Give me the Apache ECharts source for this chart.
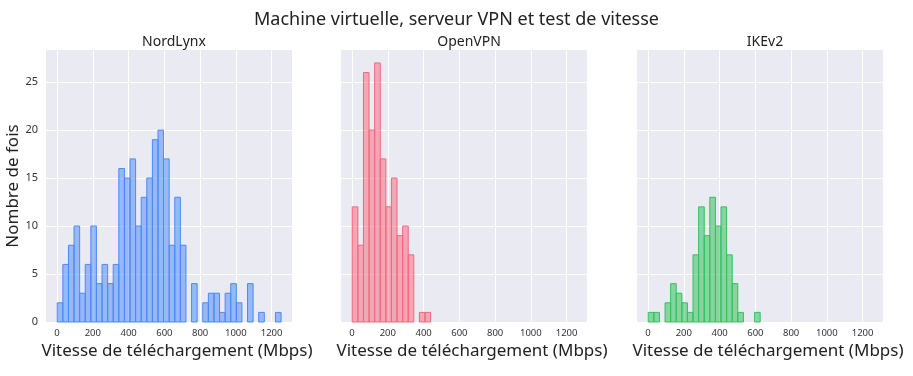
<!DOCTYPE html>
<html><head><meta charset="utf-8">
<script src="https://cdn.jsdelivr.net/npm/echarts@6/dist/echarts.min.js"></script>
<style>html,body{margin:0;padding:0;background:#fff}#c{width:913px;height:376px}</style>
</head><body><div id="c"></div>
<script>
const chartTitle = 'Machine virtuelle, serveur VPN et test de vitesse';
const panelTitles = ['NordLynx', 'OpenVPN', 'IKEv2'];
const xAxisTitle = 'Vitesse de téléchargement (Mbps)';
const yAxisTitle = 'Nombre de fois';
const binStart = 1;
const binWidth = 31.3;
const nordlynxCounts = [2,6,8,10,3,6,10,4,6,4,6,16,15,17,10,13,15,19,20,17,8,13,8,0,4,0,2,3,3,1,3,4,2,0,4,0,1,0,0,1];
const openvpnCounts = [12,8,26,20,27,17,12,15,9,10,7,0,1,1];
const ikev2Counts = [1,1,0,2,4,3,2,1,7,12,9,13,10,12,7,4,1,0,0,1];
const xTicks = [0,200,400,600,800,1000,1200];
const yTicks = [0,5,10,15,20,25];

const FONT = 'Noto Sans';
const fills = ['rgba(74,138,247,0.52)', 'rgba(245,102,124,0.5)', 'rgba(51,194,92,0.55)'];
const strokes = ['#4a8af7', '#f5667c', '#33c25c'];
const allCounts = [nordlynxCounts, openvpnCounts, ikev2Counts];

const lefts = [46, 341, 637];
const W = 246;

function toData(counts){
  const out = [];
  counts.forEach((c,i)=>{ if(c>0) out.push([binStart+i*binWidth, binStart+(i+1)*binWidth, c]); });
  return out;
}

const grids = lefts.map(l=>({left:l, width:W, top:50, bottom:54, backgroundColor:'#eaeaf2', show:true, borderWidth:0}));
const xAxes = lefts.map((l,i)=>({
  type:'value', gridIndex:i, min:-62, max:1314,
  axisLine:{show:false},
  splitLine:{show:true, lineStyle:{color:'#ffffff', width:1}},
  axisLabel:{fontFamily:FONT, fontSize:9.5, color:'#333', margin:6,
    customValues: xTicks, formatter:v=>String(v)},
  axisTick:{show:false, customValues:xTicks},
  name:xAxisTitle, nameLocation:'middle', nameGap:17,
  nameTextStyle:{fontFamily:FONT, fontSize:17, color:'#222', verticalAlign:'top', padding:[0,0,0,16]}
}));
const yAxes = lefts.map((l,i)=>({
  type:'value', gridIndex:i, min:0, max:28.35,
  axisLine:{show:false},
  splitLine:{show:true, lineStyle:{color:'#ffffff', width:1}},
  axisLabel:{show:i===0, fontFamily:FONT, fontSize:11, color:'#333', margin:8, customValues:yTicks},
  axisTick:{show:false, customValues:yTicks},
  name: i===0 ? yAxisTitle : '', nameLocation:'middle', nameGap:22,
  nameTextStyle:{fontFamily:FONT, fontSize:17, color:'#222'}
}));

const series = allCounts.map((counts,i)=>({
  type:'custom', xAxisIndex:i, yAxisIndex:i,
  data: toData(counts),
  renderItem:(params, api)=>{
    const p0 = api.coord([api.value(0), 0]);
    const p1 = api.coord([api.value(1), api.value(2)]);
    return {type:'rect', shape:{x:p0[0], y:p1[1], width:p1[0]-p0[0], height:p0[1]-p1[1]},
      style:{fill:fills[i], stroke:strokes[i], lineWidth:1}};
  }
}));

const titles = [{text:chartTitle, left:'center', top:6, textStyle:{fontFamily:FONT, fontSize:18, fontWeight:'normal', color:'#222'}}];
lefts.forEach((l,i)=>titles.push({text:panelTitles[i], left:l+W/2, textAlign:'center', top:30,
  textStyle:{fontFamily:FONT, fontSize:14, fontWeight:'normal', color:'#222'}}));

const chart = echarts.init(document.getElementById('c'), null, {renderer:'canvas'});
chart.setOption({animation:false, title:titles, grid:grids, xAxis:xAxes, yAxis:yAxes, series});
</script></body></html>
